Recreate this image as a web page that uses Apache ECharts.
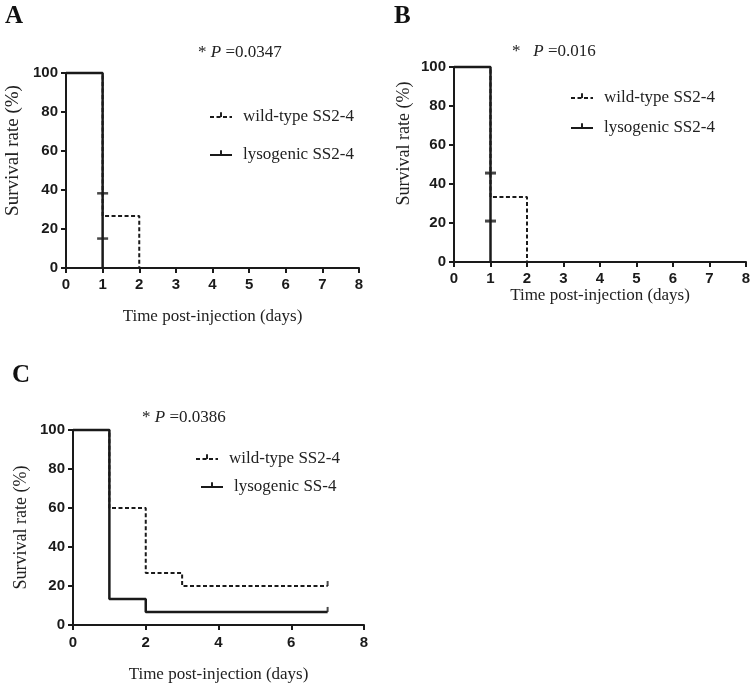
<!DOCTYPE html>
<html>
<head>
<meta charset="utf-8">
<script src="https://cdn.jsdelivr.net/npm/echarts@6/dist/echarts.min.js"></script>
<style>
html,body{margin:0;padding:0;background:#fff;}
#chart{width:755px;height:689px;}
</style>
</head>
<body>
<div id="chart"></div>
<script>
// ---------- DATA ----------
const wtName = 'wild-type SS2-4';
const lyName = 'lysogenic SS2-4';
const lyNameC = 'lysogenic SS-4';

// Panel A
const A_wt_days = [0, 1, 2];
const A_wt_surv = [100, 26.7, 0];
const A_ly_days = [0, 1];
const A_ly_surv = [100, 0];
const A_cens_days = [1, 1];
const A_cens_surv = [38.3, 15.1];

// Panel B
const B_wt_days = [0, 1, 2];
const B_wt_surv = [100, 33.3, 0];
const B_ly_days = [0, 1];
const B_ly_surv = [100, 0];
const B_cens_days = [1, 1];
const B_cens_surv = [45.6, 21.0];

// Panel C
const C_wt_days = [0, 1, 2, 3, 7];
const C_wt_surv = [100, 60, 26.7, 20, 20];
const C_ly_days = [0, 1, 2, 7];
const C_ly_surv = [100, 13.3, 6.7, 6.7];
const C_cens_days = [7, 7];
const C_cens_surv = [20, 6.7];

const yTicks = [0, 20, 40, 60, 80, 100];
const pA = '0.0347', pB = '0.016', pC = '0.0386';

// ---------- HELPERS ----------
const zip = (xs, ys) => xs.map((x, i) => [x, ys[i]]);
const serif = 'Liberation Serif';
const sans = 'Liberation Sans';
const tickSym = 'path://M4,0h2v5h-2z M0,10h10v0h-10z';

function xAxis(gi, interval, nameGap, margin) {
  return {
    type: 'value', gridIndex: gi, min: 0, max: 8, interval: interval,
    name: 'Time post-injection (days)', nameLocation: 'middle', nameGap: nameGap,
    nameTextStyle: {fontFamily: serif, fontSize: 17, color: '#222'},
    axisLine: {show: true, lineStyle: {color: '#1a1a1a', width: 2}},
    axisTick: {show: true, length: 5, lineStyle: {color: '#1a1a1a', width: 2}},
    axisLabel: {fontFamily: sans, fontWeight: 'bold', fontSize: 15, color: '#1a1a1a', margin: margin},
    splitLine: {show: false}
  };
}
function yAxis(gi, nameGap, fs, shiftUp) {
  return {
    type: 'value', gridIndex: gi, min: 0, max: 100, interval: 20,
    name: 'Survival rate (%)', nameLocation: 'middle', nameGap: nameGap,
    nameTextStyle: {fontFamily: serif, fontSize: fs, color: '#222', padding: [0, 0, 0, shiftUp * 2]},
    axisLine: {show: true, lineStyle: {color: '#1a1a1a', width: 2}},
    axisTick: {show: true, length: 5, lineStyle: {color: '#1a1a1a', width: 2}},
    axisLabel: {fontFamily: sans, fontWeight: 'bold', fontSize: 15, color: '#1a1a1a', margin: 8,
      formatter: v => yTicks.includes(v) ? String(v) : ''},
    splitLine: {show: false}
  };
}
function kmLine(name, gi, data, dashed) {
  return {
    type: 'line', name: name, xAxisIndex: gi, yAxisIndex: gi, step: 'end',
    data: data, symbol: tickSym, symbolSize: 10, showSymbol: false, clip: false,
    animation: false, z: dashed ? 4 : 3,
    itemStyle: {color: '#1a1a1a'},
    lineStyle: {color: '#1a1a1a', width: dashed ? 2 : 2.5, type: dashed ? [4, 2.5] : 'solid'}
  };
}
function censor(gi, data, size, offset) {
  return {
    type: 'scatter', xAxisIndex: gi, yAxisIndex: gi, data: data,
    symbol: 'rect', symbolSize: size, symbolOffset: offset, animation: false, z: 5,
    itemStyle: {color: '#1a1a1a'}, silent: true
  };
}
function pTitle(p, left, top, spaces) {
  return {
    text: '{a|*' + spaces + '}{i|P}{a| =' + p + '}', left: left, top: top, padding: 0,
    textStyle: {fontWeight: 'normal', rich: {
      a: {fontFamily: serif, fontSize: 17, fontWeight: 'normal', color: '#222'},
      i: {fontFamily: serif, fontSize: 17, fontWeight: 'normal', fontStyle: 'italic', color: '#222'}
    }}
  };
}
function letter(t, left, top) {
  return {text: t, left: left, top: top, padding: 0,
    textStyle: {fontFamily: serif, fontSize: 25, fontWeight: 'bold', color: '#111'}};
}
function legendRow(name, left, top) {
  return {
    data: [name], left: left, top: top, padding: 0, itemWidth: 22, itemHeight: 12,
    selectedMode: false,
    textStyle: {fontFamily: serif, fontSize: 17, color: '#222', padding: [0, 0, 0, 6], lineHeight: 18}
  };
}

const option = {
  backgroundColor: '#fff',
  animation: false,
  title: [
    letter('A', 5, 4), letter('B', 394, 4), letter('C', 12, 363),
    pTitle(pA, 198, 44, ' '), pTitle(pB, 512, 43, '   '), pTitle(pC, 142, 409, ' ')
  ],
  legend: [
    legendRow(wtName, 209, 108), legendRow(lyName, 209, 146),
    legendRow(wtName, 570, 89), legendRow(lyName, 570, 119),
    legendRow(wtName, 195, 450), legendRow(lyNameC, 200, 478)
  ],
  grid: [
    {left: 66, top: 73, width: 293, height: 195},
    {left: 454, top: 67, width: 292, height: 195},
    {left: 73, top: 430, width: 291, height: 195}
  ],
  xAxis: [xAxis(0, 1, 40, 9), xAxis(1, 1, 23, 9), xAxis(2, 2, 41, 10)],
  yAxis: [yAxis(0, 43, 19, 20), yAxis(1, 41, 18, 21), yAxis(2, 43, 18, 0)],
  series: [
    kmLine(lyName, 0, zip(A_ly_days, A_ly_surv), false),
    kmLine(wtName, 0, zip(A_wt_days, A_wt_surv), true),
    censor(0, zip(A_cens_days, A_cens_surv), [11, 2.5], [0, 0]),
    kmLine(lyName, 1, zip(B_ly_days, B_ly_surv), false),
    kmLine(wtName, 1, zip(B_wt_days, B_wt_surv), true),
    censor(1, zip(B_cens_days, B_cens_surv), [11, 3], [0, 0]),
    kmLine(lyNameC, 2, zip(C_ly_days, C_ly_surv), false),
    kmLine(wtName, 2, zip(C_wt_days, C_wt_surv), true),
    censor(2, zip(C_cens_days, C_cens_surv), [2, 5], [0, -2.5])
  ]
};

const chart = echarts.init(document.getElementById('chart'), null, {renderer: 'canvas'});
chart.setOption(option);
</script>
</body>
</html>
